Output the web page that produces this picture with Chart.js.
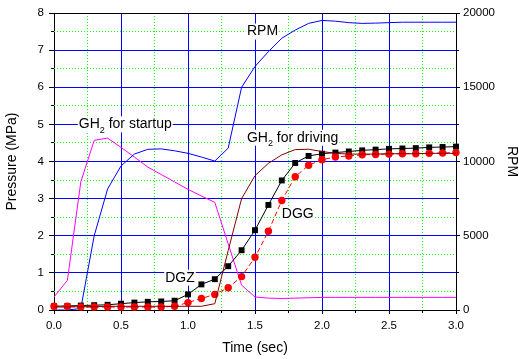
<!DOCTYPE html>
<html>
<head>
<meta charset="utf-8">
<script src="https://cdn.jsdelivr.net/npm/chart.js@4.4.0/dist/chart.umd.min.js"></script>
<style>
  html, body { margin: 0; padding: 0; background: #fff; }
  canvas { display: block; }
</style>
</head>
<body>
<canvas id="pressureChart" width="519" height="359"></canvas>
<script>
// sample times (sec)
const timeSec = [0.0, 0.1, 0.2, 0.3, 0.4, 0.5, 0.6, 0.7, 0.8, 0.9,
                 1.0, 1.1, 1.2, 1.3, 1.4, 1.5, 1.6, 1.7, 1.8, 1.9,
                 2.0, 2.1, 2.2, 2.3, 2.4, 2.5, 2.6, 2.7, 2.8, 2.9, 3.0];

// pressures (MPa)
const gh2Startup = [0.35, 0.8, 3.45, 4.57, 4.63, 4.38, 4.12, 3.85, 3.65, 3.45,
                    3.25, 3.07, 2.9, 1.78, 0.67, 0.35, 0.32, 0.31, 0.32, 0.33,
                    0.34, 0.34, 0.34, 0.34, 0.34, 0.34, 0.34, 0.34, 0.34, 0.34, 0.34];
const gh2Driving = [0.08, 0.08, 0.09, 0.09, 0.1, 0.1, 0.1, 0.1, 0.1, 0.1,
                    0.1, 0.1, 0.17, 1.6, 3.0, 3.62, 3.95, 4.18, 4.32, 4.33,
                    4.27, 4.22, 4.2, 4.2, 4.2, 4.21, 4.21, 4.21, 4.22, 4.22, 4.22];
const dgz = [0.1, 0.11, 0.12, 0.13, 0.14, 0.17, 0.2, 0.22, 0.23, 0.25,
             0.42, 0.69, 0.83, 1.18, 1.61, 2.15, 2.83, 3.49, 3.96, 4.15,
             4.21, 4.24, 4.27, 4.3, 4.32, 4.34, 4.35, 4.36, 4.38, 4.39, 4.4];
const dgg = [0.1, 0.1, 0.08, 0.08, 0.08, 0.08, 0.08, 0.08, 0.08, 0.1,
             0.2, 0.31, 0.42, 0.6, 0.9, 1.42, 2.12, 2.95, 3.59, 3.9,
             4.05, 4.12, 4.15, 4.18, 4.19, 4.2, 4.21, 4.21, 4.22, 4.23, 4.24];

// turbine speed (RPM, right axis)
const rpm = [0, 0, 100, 5000, 8150, 9700, 10500, 10820, 10850, 10720,
             10550, 10300, 10030, 10900, 15000, 16400, 17400, 18300, 18850, 19300,
             19500, 19450, 19350, 19300, 19320, 19350, 19380, 19380, 19380, 19380, 19380];

// labels written on the plot
const curveLabels = [
    { head: 'RPM', sub: '', tail: '', t: 1.44, p: 7.5 },
    { head: 'GH', sub: '2', tail: ' for startup', t: 0.185, p: 5.0 },
    { head: 'GH', sub: '2', tail: ' for driving', t: 1.44, p: 4.64 },
    { head: 'DGZ', sub: '', tail: '', t: 0.83, p: 0.87 },
    { head: 'DGG', sub: '', tail: '', t: 1.7, p: 2.59 }
];

const FONT = "'Liberation Sans', Arial, sans-serif";

function toPoints(values) {
    return values.map((v, i) => ({ x: timeSec[i], y: v }));
}

function align(px) {
    return Math.round(px - 0.5) + 0.5;
}

// grid lines (blue major, green dotted minor), minor ticks, top frame
const gridPlugin = {
    id: 'gridPlugin',
    beforeDatasetsDraw(chart) {
        const { ctx, chartArea: a, scales: { x, y, y1 } } = chart;
        ctx.save();
        ctx.lineWidth = 1;

        ctx.strokeStyle = '#00ff00';
        ctx.setLineDash([1, 2]);
        for (let t = 0.25; t < 3; t += 0.5) {
            const px = align(x.getPixelForValue(t));
            ctx.beginPath();
            ctx.moveTo(px, a.top);
            ctx.lineTo(px, a.bottom);
            ctx.stroke();
        }
        for (let p = 0.5; p < 8; p += 1) {
            const py = align(y.getPixelForValue(p));
            ctx.beginPath();
            ctx.moveTo(a.left, py);
            ctx.lineTo(a.right, py);
            ctx.stroke();
        }

        ctx.setLineDash([]);
        ctx.strokeStyle = '#0000ff';
        ctx.beginPath();
        for (let t = 0.5; t < 3; t += 0.5) {
            const px = align(x.getPixelForValue(t));
            ctx.moveTo(px, a.top);
            ctx.lineTo(px, a.bottom);
        }
        for (let p = 1; p < 8; p += 1) {
            const py = align(y.getPixelForValue(p));
            ctx.moveTo(a.left, py);
            ctx.lineTo(a.right, py);
        }
        ctx.stroke();

        ctx.strokeStyle = '#000';
        ctx.beginPath();
        for (let t = 0.25; t < 3; t += 0.5) {
            const px = align(x.getPixelForValue(t));
            ctx.moveTo(px, a.bottom);
            ctx.lineTo(px, a.bottom + 3);
        }
        for (let p = 0.5; p < 8; p += 1) {
            const py = align(y.getPixelForValue(p));
            ctx.moveTo(a.left - 3, py);
            ctx.lineTo(a.left, py);
        }
        for (let r = 2500; r < 20000; r += 5000) {
            const py = align(y1.getPixelForValue(r));
            ctx.moveTo(a.right, py);
            ctx.lineTo(a.right + 3, py);
        }
        const top = align(a.top);
        ctx.moveTo(a.left, top);
        ctx.lineTo(a.right, top);
        ctx.stroke();
        ctx.restore();
    }
};

const labelPlugin = {
    id: 'curveLabels',
    afterDatasetsDraw(chart) {
        const { ctx, scales: { x, y } } = chart;
        const mainFont = '14px ' + FONT;
        const subFont = '9px ' + FONT;
        ctx.save();
        ctx.textBaseline = 'middle';
        ctx.textAlign = 'left';
        curveLabels.forEach(l => {
            const px = x.getPixelForValue(l.t);
            const py = y.getPixelForValue(l.p);
            ctx.font = mainFont;
            const w1 = ctx.measureText(l.head).width;
            const w3 = ctx.measureText(l.tail).width;
            ctx.font = subFont;
            const w2 = l.sub ? ctx.measureText(l.sub).width : 0;

            ctx.fillStyle = '#fff';
            ctx.fillRect(px - 1, py - 8, w1 + w2 + w3 + 2, 16);

            ctx.fillStyle = '#000';
            ctx.font = mainFont;
            ctx.fillText(l.head, px, py);
            if (l.sub) {
                ctx.font = subFont;
                ctx.fillText(l.sub, px + w1, py + 6);
            }
            ctx.font = mainFont;
            ctx.fillText(l.tail, px + w1 + w2, py);
        });
        ctx.restore();
    }
};

const tickFont = { family: FONT, size: 11.5 };
const titleFont = { family: FONT, size: 14, lineHeight: 1 };

new Chart(document.getElementById('pressureChart').getContext('2d'), {
    type: 'line',
    data: {
        datasets: [
            {
                label: 'GH2 for driving',
                data: toPoints(gh2Driving),
                borderColor: '#800000',
                borderWidth: 1,
                pointRadius: 0,
                yAxisID: 'y',
                clip: false
            },
            {
                label: 'DGG',
                data: toPoints(dgg),
                borderColor: '#ff0000',
                borderWidth: 1,
                borderDash: [5, 3],
                pointStyle: 'circle',
                pointRadius: 3.7,
                pointBackgroundColor: '#ff0000',
                pointBorderWidth: 0,
                yAxisID: 'y',
                clip: false
            },
            {
                label: 'DGZ',
                data: toPoints(dgz),
                borderColor: '#000000',
                borderWidth: 1,
                pointStyle: 'rect',
                pointRadius: 4.2,
                pointBackgroundColor: '#000000',
                pointBorderWidth: 0,
                yAxisID: 'y',
                clip: false
            },
            {
                label: 'RPM',
                data: toPoints(rpm),
                borderColor: '#0000ff',
                borderWidth: 1,
                pointRadius: 0,
                yAxisID: 'y1'
            },
            {
                label: 'GH2 for startup',
                data: toPoints(gh2Startup),
                borderColor: '#ff00ff',
                borderWidth: 1,
                pointRadius: 0,
                yAxisID: 'y'
            }
        ]
    },
    options: {
        responsive: false,
        animation: false,
        devicePixelRatio: 1,
        layout: { padding: { top: 13, left: 0, right: 0, bottom: 0 } },
        plugins: {
            legend: { display: false },
            tooltip: { enabled: false }
        },
        scales: {
            x: {
                type: 'linear',
                min: 0,
                max: 3,
                afterFit: s => { s.height = 49; },
                ticks: {
                    stepSize: 0.5,
                    color: '#000',
                    font: tickFont,
                    padding: 5,
                    maxRotation: 0,
                    callback: v => v.toFixed(1)
                },
                grid: { drawOnChartArea: false, tickColor: '#000', tickLength: 4 },
                border: { color: '#000', width: 1 },
                title: {
                    display: true,
                    text: 'Time (sec)',
                    color: '#000',
                    font: titleFont,
                    padding: { top: 0, bottom: 4 }
                }
            },
            y: {
                type: 'linear',
                position: 'left',
                min: 0,
                max: 8,
                afterFit: s => { s.width = 54; },
                ticks: {
                    stepSize: 1,
                    color: '#000',
                    font: tickFont,
                    padding: 5
                },
                grid: { drawOnChartArea: false, tickColor: '#000', tickLength: 5 },
                border: { color: '#000', width: 1 },
                title: {
                    display: true,
                    text: 'Pressure (MPa)',
                    color: '#000',
                    font: titleFont,
                    padding: { top: 5, bottom: 0 }
                }
            },
            y1: {
                type: 'linear',
                position: 'right',
                min: 0,
                max: 20000,
                afterFit: s => { s.width = 63; },
                ticks: {
                    stepSize: 5000,
                    color: '#000',
                    font: tickFont,
                    padding: 3,
                    callback: v => String(v)
                },
                grid: { drawOnChartArea: false, tickColor: '#000', tickLength: 4 },
                border: { color: '#000', width: 1 },
                title: {
                    display: true,
                    text: 'RPM',
                    color: '#000',
                    font: titleFont,
                    padding: { top: 0, bottom: 0 }
                }
            }
        }
    },
    plugins: [gridPlugin, labelPlugin]
});
</script>
</body>
</html>
